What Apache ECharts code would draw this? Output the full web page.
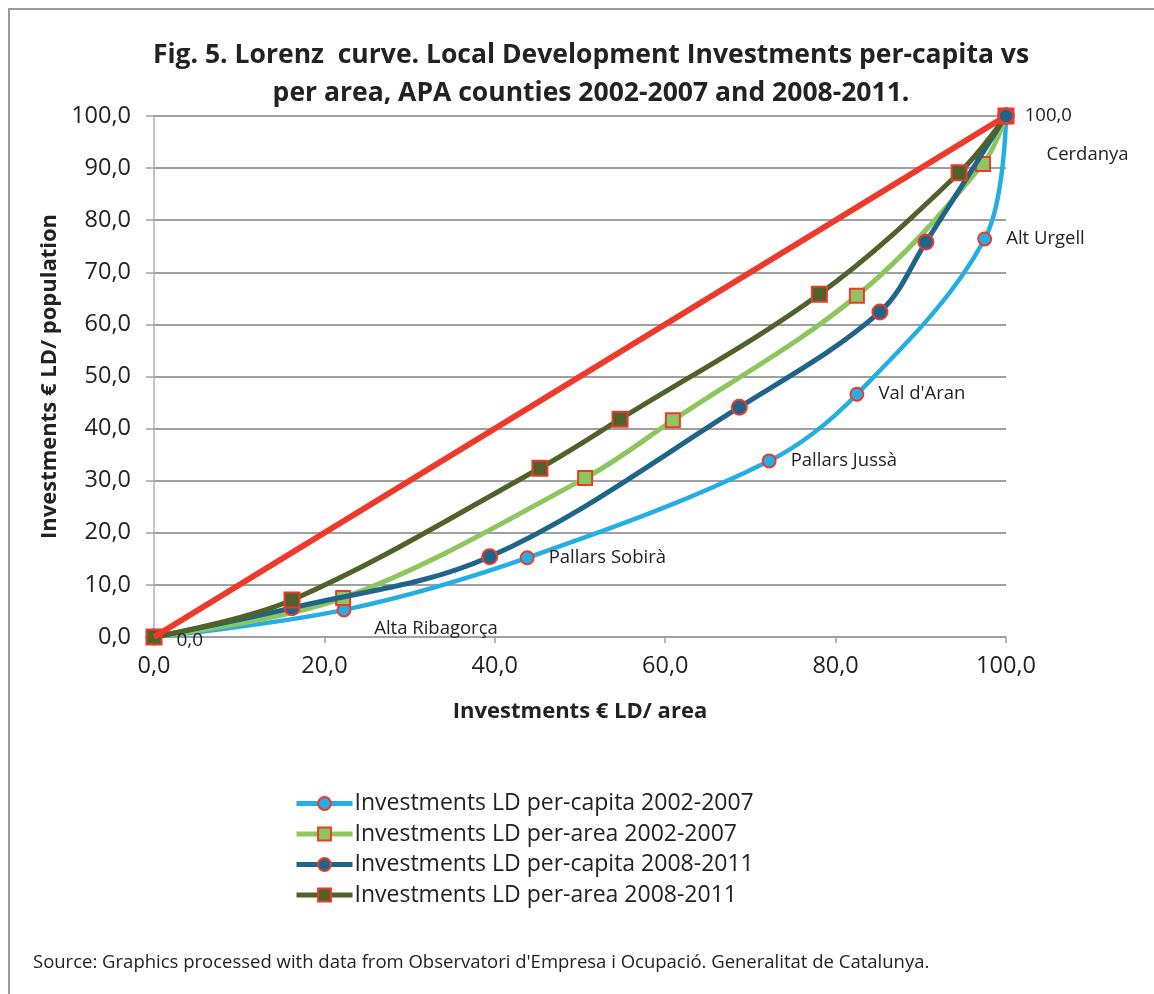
<!DOCTYPE html>
<html>
<head>
<meta charset="utf-8">
<script src="https://cdn.jsdelivr.net/npm/echarts@6/dist/echarts.min.js"></script>
<style>
html,body{margin:0;padding:0;background:#fff;}
#c{width:1154px;height:994px;}
</style>
</head>
<body>
<div id="c"></div>
<script>
// ---- data ----
var seriesNames = [
  'Investments LD per-capita 2002-2007',
  'Investments LD per-area 2002-2007',
  'Investments LD per-capita 2008-2011',
  'Investments LD per-area 2008-2011'
];
var capita0207 = [[0,0],[22.3,5.2],[43.8,15.2],[72.2,33.8],[82.5,46.6],[97.5,76.4],[100,100]];
var area0207   = [[0,0],[22.2,7.5],[50.6,30.5],[60.9,41.6],[82.5,65.5],[97.3,90.8],[100,100]];
var capita0811 = [[0,0],[16.2,5.6],[39.4,15.4],[68.7,44.1],[85.2,62.4],[90.6,75.8],[100,100]];
var area0811   = [[0,0],[16.2,7.1],[45.3,32.4],[54.7,41.8],[78.1,65.8],[94.5,89.1],[100,100]];
var equality   = [[0,0],[100,100]];
var countyLabels = ['', 'Alta Ribagorça', 'Pallars Sobirà', 'Pallars Jussà', "Val d'Aran", 'Alt Urgell', 'Cerdanya'];
var yTicks = [0,10,20,30,40,50,60,70,80,90,100];
var xTicks = [0,20,40,60,80,100];

var FONT = '"Open Sans", sans-serif';
var RED = '#ee3a2b';
var colors = ['#25aee4', '#8dc65c', '#1f6489', '#4e6229'];

function fmt(v){ return v.toFixed(1).replace('.', ','); }

var labelStyles = [
  null,
  {position:'bottom', offset:[92,-3]},
  {position:'right', distance:14},
  {position:'right', distance:14},
  {position:'right', distance:14},
  {position:'right', distance:14},
  {position:'right', offset:[28,39]}
];

var lbData = capita0207.map(function(p, i){
  var d = {value: p};
  if (countyLabels[i]) {
    var s = labelStyles[i];
    d.label = Object.assign({show:true, formatter: countyLabels[i], color:'#222', fontSize:18.5, fontFamily:FONT}, s);
  }
  return d;
});

var chart = echarts.init(document.getElementById('c'), null, {renderer:'canvas'});
var option = {
  backgroundColor:'#fff',
  animation:false,
  title:{
    text:'Fig. 5. Lorenz  curve. Local Development Investments per-capita vs\nper area, APA counties 2002-2007 and 2008-2011.',
    left:586, top:31, textAlign:'center',
    textStyle:{fontFamily:FONT, fontWeight:'bold', fontSize:26.5, color:'#222', lineHeight:38}
  },
  legend:{
    orient:'vertical', left:289, top:787, itemGap:7.5, itemWidth:56, itemHeight:16,
    data:seriesNames,
    lineStyle:{width:5},
    textStyle:{fontFamily:FONT, fontSize:23, color:'#222', padding:[0,0,0,-3]}
  },
  grid:{left:154, right:148, top:116, bottom:357, containLabel:false},
  xAxis:{
    type:'value', min:0, max:100, interval:20,
    name:'Investments € LD/ area', nameLocation:'middle', nameGap:64,
    nameTextStyle:{fontFamily:FONT, fontWeight:'bold', fontSize:22, color:'#222'},
    axisLine:{show:true, lineStyle:{color:'#a0a0a0', width:1.5}},
    axisTick:{show:true, length:6, lineStyle:{color:'#a0a0a0', width:1.5}},
    axisLabel:{fontFamily:FONT, fontSize:23.5, color:'#222', margin:17, formatter:fmt},
    splitLine:{show:false}
  },
  yAxis:{
    type:'value', min:0, max:100, interval:10,
    name:'Investments € LD/ population', nameLocation:'middle', nameGap:89,
    nameTextStyle:{fontFamily:FONT, fontWeight:'bold', fontSize:22, color:'#222'},
    axisLine:{show:true, lineStyle:{color:'#b0b0b0', width:1.5}},
    axisTick:{show:true, length:8, lineStyle:{color:'#a0a0a0', width:1.5}},
    axisLabel:{fontFamily:FONT, fontSize:23.5, color:'#222', margin:23, formatter:fmt},
    splitLine:{show:true, lineStyle:{color:'#a0a0a0', width:2}}
  },
  graphic:[
    {type:'rect', shape:{x:9, y:9, width:1160, height:1000}, style:{fill:null, stroke:'#9a9a9a', lineWidth:2}, silent:true, z:-10},
    {type:'text', left:33, top:953, style:{text:'Source: Graphics processed with data from Observatori d\'Empresa i Ocupació. Generalitat de Catalunya.', fontFamily:FONT, fontSize:18.5, fill:'#222'}}
  ],
  series:[
    {name:seriesNames[0], type:'line', smooth:0.35, data:lbData, symbol:'circle', symbolSize:13,
      lineStyle:{color:colors[0], width:4.5}, itemStyle:{color:colors[0], borderColor:RED, borderWidth:2}, z:2},
    {name:seriesNames[1], type:'line', smooth:0.35, data:area0207, symbol:'rect', symbolSize:14,
      lineStyle:{color:colors[1], width:5}, itemStyle:{color:colors[1], borderColor:RED, borderWidth:2}, z:3},
    {name:seriesNames[2], type:'line', smooth:0.35, data:capita0811, symbol:'circle', symbolSize:15,
      lineStyle:{color:colors[2], width:5}, itemStyle:{color:colors[2], borderColor:RED, borderWidth:2}, z:4},
    {name:seriesNames[3], type:'line', smooth:0.35, data:area0811.map(function(p,i){
        var d={value:p};
        if(i===0){ d.label={show:true, position:'right', distance:14, formatter:fmt(p[1]), fontFamily:FONT, fontSize:19, color:'#222', offset:[0,4]}; }
        return d; }),
      symbol:'rect', symbolSize:15,
      lineStyle:{color:colors[3], width:5}, itemStyle:{color:colors[3], borderColor:RED, borderWidth:2}, z:5},
    {name:'equality', type:'line', data:equality.map(function(p,i){
        var d={value:p};
        if(i===equality.length-1){
          d.symbol='circle'; d.symbolSize=15;
          d.itemStyle={color:colors[2], borderColor:RED, borderWidth:2.5};
          d.label={show:true, position:'right', distance:10, formatter:fmt(p[1]), fontFamily:FONT, fontSize:18.5, color:'#222'};
        } else { d.symbol='none'; }
        return d; }),
      lineStyle:{color:RED, width:6}, itemStyle:{color:RED}, z:6}
  ]
};
chart.setOption(option);
</script>
</body>
</html>
